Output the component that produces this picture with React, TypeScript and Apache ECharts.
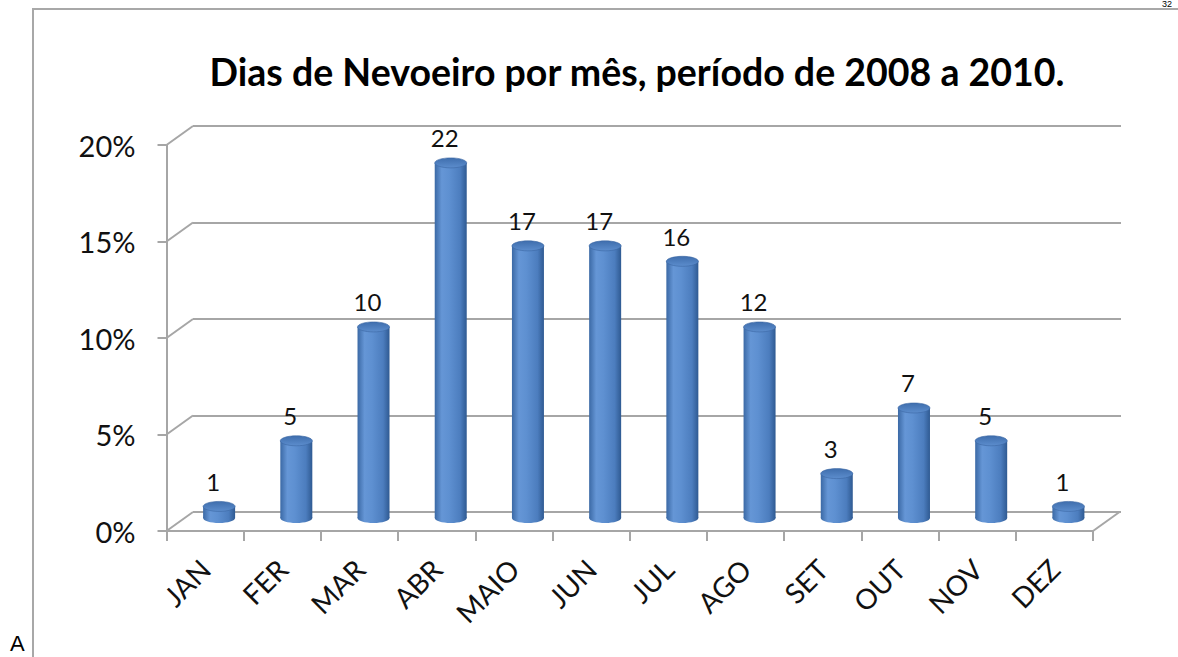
import React, { useEffect, useRef } from "react";
import * as echarts from "echarts";

const categories = ["JAN", "FER", "MAR", "ABR", "MAIO", "JUN", "JUL", "AGO", "SET", "OUT", "NOV", "DEZ"];
const percentValues = [0.6, 4.0, 9.9, 18.4, 14.1, 14.1, 13.3, 9.9, 2.3, 5.7, 4.0, 0.6];
const dayCounts = [1, 5, 10, 22, 17, 17, 16, 12, 3, 7, 5, 1];
const yTicks = [0, 5, 10, 15, 20];
const titleText = "Dias de Nevoeiro por mês, período de 2008 a 2010.";

const FONT = "Lato";
const GRID_COLOR = "#A6A6A6";
const DEPTH_X = 26.5;
const DEPTH_Y = -19;
const BAR_DX = 14;
const BAR_DY = -13;
const BAR_RX = 16;
const BAR_RY = 5;

export default function App() {
  const ref = useRef<HTMLDivElement>(null);

  useEffect(() => {
    document.body.style.margin = "0";
    const chart = echarts.init(ref.current as HTMLDivElement, null, { renderer: "svg" });

    const bodyFill = () =>
      new echarts.graphic.LinearGradient(0, 0, 1, 0, [
        { offset: 0, color: "#3B69A5" },
        { offset: 0.22, color: "#6596D6" },
        { offset: 0.45, color: "#5E90D1" },
        { offset: 0.8, color: "#4C7DBE" },
        { offset: 1, color: "#2F5A92" },
      ]);
    const topFill = () =>
      new echarts.graphic.LinearGradient(0, 0, 0, 1, [
        { offset: 0, color: "#3F6EAD" },
        { offset: 1, color: "#5C8DCD" },
      ]);

    const option: any = {
      animation: false,
      backgroundColor: "#FFFFFF",
      grid: [
        { left: 166.5, top: 145, width: 926.5, height: 386 },
        { left: 193, top: 126, width: 928, height: 386 },
      ],
      xAxis: [
        {
          type: "category",
          gridIndex: 0,
          data: categories,
          boundaryGap: true,
          axisLine: { show: true, lineStyle: { color: GRID_COLOR, width: 2 } },
          axisTick: { show: true, length: 10, lineStyle: { color: GRID_COLOR, width: 2 } },
          axisLabel: {
            rotate: 45,
            margin: 33,
            fontFamily: FONT,
            fontSize: 28,
            color: "#111",
          },
          splitLine: { show: false },
        },
        {
          type: "category",
          gridIndex: 1,
          data: categories,
          show: false,
        },
      ],
      yAxis: [
        {
          type: "value",
          gridIndex: 0,
          min: 0,
          max: 20,
          interval: 5,
          axisLine: { show: true, lineStyle: { color: GRID_COLOR, width: 2 } },
          axisTick: { show: true, inside: false, length: 9, lineStyle: { color: GRID_COLOR, width: 2 } },
          axisLabel: {
            formatter: "{value}%",
            margin: 31,
            fontFamily: FONT,
            fontSize: 29,
            color: "#111",
          },
          splitLine: { show: false },
        },
        {
          type: "value",
          gridIndex: 1,
          min: 0,
          max: 20,
          interval: 5,
          axisLine: { show: false },
          axisTick: { show: false },
          axisLabel: { show: false },
          splitLine: { show: true, lineStyle: { color: GRID_COLOR, width: 2 } },
        },
      ],
      graphic: [
        {
          type: "line",
          shape: { x1: 33, y1: 9, x2: 33, y2: 657 },
          style: { stroke: "#A8A8A8", lineWidth: 2 },
        },
        {
          type: "line",
          shape: { x1: 32, y1: 9, x2: 1178, y2: 9 },
          style: { stroke: "#A8A8A8", lineWidth: 2 },
        },
        {
          type: "text",
          x: 637,
          y: 71,
          style: {
            text: titleText,
            fontFamily: FONT,
            fontWeight: "bold",
            fontSize: 37.5,
            fill: "#000",
            align: "center",
            verticalAlign: "middle",
          },
        },
        {
          type: "text",
          x: 10,
          y: 643,
          style: {
            text: "A",
            fontFamily: "Liberation Sans",
            fontSize: 22,
            fill: "#000",
            align: "left",
            verticalAlign: "middle",
          },
        },
        {
          type: "text",
          x: 1162,
          y: 4,
          style: {
            text: "32",
            fontFamily: "Liberation Sans",
            fontSize: 9,
            fill: "#000",
            align: "left",
            verticalAlign: "middle",
          },
        },
      ],
      series: [
        {
          type: "custom",
          name: "depth",
          xAxisIndex: 0,
          yAxisIndex: 0,
          clip: false,
          silent: true,
          z: 1,
          data: [
            ...yTicks.map((v) => [0, v, -1]),
            [categories.length - 1, 0, 1],
          ],
          renderItem: (params: any, api: any) => {
            const idx = api.value(0);
            const v = api.value(1);
            const side = api.value(2);
            const p = api.coord([idx, v]);
            const half = api.size([1, 0])[0] / 2;
            const x0 = p[0] + side * half;
            return {
              type: "line",
              shape: { x1: x0, y1: p[1], x2: x0 + DEPTH_X, y2: p[1] + DEPTH_Y },
              style: { stroke: GRID_COLOR, lineWidth: 2 },
            };
          },
        },
        {
          type: "custom",
          name: "Dias de nevoeiro",
          xAxisIndex: 0,
          yAxisIndex: 0,
          clip: false,
          z: 3,
          data: percentValues.map((v, i) => [i, v, dayCounts[i]]),
          renderItem: (params: any, api: any) => {
            const idx = api.value(0);
            const v = api.value(1);
            const cnt = api.value(2);
            const base = api.coord([idx, 0]);
            const top = api.coord([idx, v]);
            const cx = base[0] + BAR_DX;
            const by = base[1] + BAR_DY;
            const ty = top[1] + BAR_DY;
            return {
              type: "group",
              children: [
                {
                  type: "ellipse",
                  shape: { cx, cy: by, rx: BAR_RX, ry: BAR_RY },
                  style: { fill: bodyFill() },
                },
                {
                  type: "rect",
                  shape: { x: cx - BAR_RX, y: ty, width: BAR_RX * 2, height: by - ty },
                  style: { fill: bodyFill() },
                },
                {
                  type: "ellipse",
                  shape: { cx, cy: ty, rx: BAR_RX, ry: BAR_RY },
                  style: { fill: topFill(), stroke: "#3A67A2", lineWidth: 0.6 },
                },
                {
                  type: "text",
                  style: {
                    text: String(cnt),
                    x: cx - 6,
                    y: ty - BAR_RY - 20,
                    fontFamily: FONT,
                    fontSize: 24,
                    fill: "#111",
                    align: "center",
                    verticalAlign: "middle",
                  },
                },
              ],
            };
          },
        },
      ],
    };

    chart.setOption(option);
    return () => chart.dispose();
  }, []);

  return <div ref={ref} style={{ width: 1178, height: 657 }} />;
}
